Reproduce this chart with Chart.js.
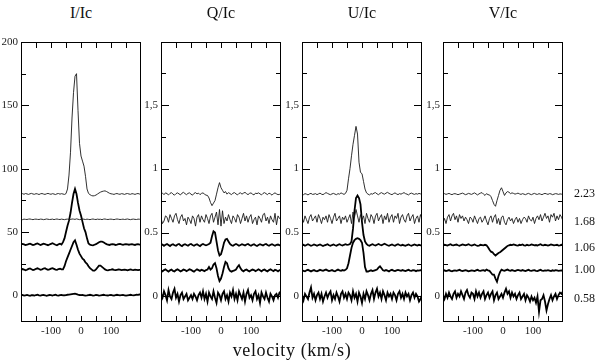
<!DOCTYPE html>
<html>
<head>
<meta charset="utf-8">
<script src="https://cdn.jsdelivr.net/npm/chart.js@4.4.1/dist/chart.umd.min.js"></script>
<style>
  html, body { margin: 0; padding: 0; background: #fff; }
  #wrap { position: relative; width: 600px; height: 362px; overflow: hidden; font-family: "Liberation Serif", "DejaVu Serif", serif; color: #111; }
  .panel { position: absolute; top: 30px; }
  .title { position: absolute; top: 4px; width: 80px; text-align: center; font-size: 16px; line-height: 18px; }
  .rlabel { position: absolute; left: 574px; font-size: 12px; line-height: 12px; }
  #xlabel { position: absolute; left: 172px; width: 240px; top: 340px; text-align: center; font-size: 18px; line-height: 20px; letter-spacing: 0.6px; }
</style>
</head>
<body>
<div id="wrap"></div>
<script>
// velocity grid (km/s) and profile values, stacked with an offset per phase
const velocity = [
  -200,-195,-190,-185,-180,-175,-170,-165,-160,-155,
  -150,-145,-140,-135,-130,-125,-120,-115,-110,-105,
  -100,-95,-90,-85,-80,-75,-70,-65,-60,-55,
  -50,-45,-40,-35,-30,-25,-20,-15,-10,-5,
  0,5,10,15,20,25,30,35,40,45,
  50,55,60,65,70,75,80,85,90,95,
  100,105,110,115,120,125,130,135,140,145,
  150,155,160,165,170,175,180,185,190,195,
  200
];

const phaseLabels = ["2.23", "1.68", "1.06", "1.00", "0.58"];
const iOffsets = [80, 60, 40, 20, 0];
const polOffsets = [0.8, 0.6, 0.4, 0.2, 0];

// I/Ic
const I_223 = [
  0,0.3,-0.2,0.4,0.1,-0.3,0.2,0.5,0,-0.2,
  0.3,0.1,-0.4,0.2,0.4,0,-0.3,0.2,0.5,0.1,
  -0.2,0.3,0,-0.4,0.2,0.4,-0.1,0.3,0,-0.3,
  0.3,4,15,33,60,80,93,95,66,40,
  30,26,22,14,4,0.5,-0.5,-1.2,-1.5,-1.3,
  -0.8,0,0.8,1.5,2,2.3,2.5,2,1.3,0.6,
  0.2,0,-0.3,0.2,0.4,0,-0.2,0.3,0.1,-0.3,
  0.2,0.4,0,-0.2,0.3,0.1,-0.3,0.2,0.4,0,
  0.1
];
const I_168 = [
  0.1,-0.2,0.2,0,-0.1,0.2,0.3,0,-0.2,0.1,
  0.2,0,-0.1,0.2,0.1,-0.2,0,0.3,0.1,-0.1,
  0,0.2,-0.2,0.1,0.3,0,-0.1,0.2,0,-0.2,
  0.1,0.2,0,-0.1,0.3,0.2,0,0.4,0.1,-0.2,
  0,0.3,0.1,-0.1,0.2,0,-0.2,0.1,0.3,0,
  -0.1,0.2,0,0.1,-0.2,0.2,0.3,0,-0.1,0.1,
  0.2,0,-0.2,0.1,0.3,0.1,-0.1,0,0.2,-0.1,
  0.1,0.3,0,-0.2,0.1,0.2,0,-0.1,0.2,0.1,
  0
];
const I_106 = [
  0.2,0.6,0.3,-0.3,0,0.5,0.8,0.3,-0.2,0.1,
  0.6,1.0,0.4,-0.2,0.3,0.8,0.5,0,-0.4,0.2,
  0.7,1.2,0.6,0,-0.5,0.3,0.8,0.2,2,5,
  10,15,19,25,33,40,44,40,33,27,
  23,18,13,10,5,1,0,-0.3,-0.5,0,
  0.5,1.2,2,2.5,2.5,2,1.2,0.5,0,-0.2,
  0.2,0.5,0.2,-0.2,0,0.4,0.6,0.2,-0.1,0.2,
  0.5,0.3,0,0.2,0.4,0.1,-0.2,0.2,0.4,0.1,
  0.2
];
const I_100 = [
  0.3,0.8,0.4,-0.2,0.2,0.9,1.3,0.6,0,0.4,
  1.0,1.4,0.8,0.2,0.6,1.2,1.5,0.7,0.2,0.5,
  1.1,1.5,0.9,0.3,0.2,0.8,1.0,0.5,0.5,3,
  7,10,13,16,19,22,23.4,20,16,13,
  11,9,8,6,5,3,1.5,0.5,-0.5,-0.5,
  0.5,2,3.5,3.5,2.5,1.5,0.5,0,-0.2,0.1,
  0.3,0.6,0.2,-0.1,0.2,0.5,0.3,0,0.2,0.4,
  0.1,-0.2,0.2,0.5,0.2,0,0.3,0.1,-0.1,0.2,
  0.1
];
const I_058 = [
  0,0.3,-0.2,0.1,0.4,0,-0.3,0.2,0.1,-0.1,
  0.3,0.5,0,-0.2,0.2,0.4,0.1,-0.3,0,0.3,
  0.2,-0.1,0.3,0.5,0.1,-0.2,0.2,0.4,0,0.1,
  0.3,0.5,0.6,0.8,1.0,1.2,1.4,1.0,0.6,0.3,
  0.2,0.4,0.1,-0.2,0,0.3,0.5,0.2,-0.1,0.1,
  0.4,0.2,-0.2,0,0.3,0.5,0.2,0,-0.1,0.3,
  0.4,0.1,-0.2,0.2,0.5,0.3,0,0.2,0.4,0.1,
  -0.2,0.1,0.3,0.5,0.2,0,0.3,0.6,0.4,0.7,
  0.8
];

// Q/Ic
const Q_223 = [
  0,0.008,-0.004,0.01,0.004,-0.006,0.006,0.012,0,-0.008,
  0.004,0.01,0.002,-0.006,0.008,0.014,0.004,-0.004,0.006,0.01,
  0,-0.008,0.006,0.012,0.002,0.008,-0.004,0.006,0.01,0,
  -0.008,-0.01,-0.03,-0.065,-0.09,-0.07,-0.05,0,0.05,0.09,
  0.05,0.03,0.01,0.02,0,0.012,0.004,-0.004,0.008,0.012,
  0.002,-0.006,0.006,0.01,0,0.008,0.014,0.004,-0.004,0.006,
  0.01,0,-0.006,0.008,0.004,0.01,0.002,-0.006,0.006,0.012,
  0.004,-0.004,0.008,0.002,-0.008,0.004,0.01,0.002,-0.004,-0.002,
  -0.006
];
const Q_168 = [
  0.01,-0.03,-0.01,0.03,0.02,-0.02,0.04,0.01,-0.02,0.03,
  0.05,0,-0.03,0.02,0.04,-0.01,0.01,-0.04,0.02,0,
  -0.03,0.03,0.01,-0.05,0.02,0.04,-0.02,0.03,0,-0.02,
  0.04,0.01,-0.03,0.03,0.05,-0.02,0.02,0.06,-0.04,0.08,
  -0.05,0.07,-0.03,0.02,-0.01,0.04,0,-0.03,0.03,0.01,
  -0.02,0.04,0.02,-0.03,0.01,0.05,-0.01,0.03,-0.02,0.02,
  0.04,-0.03,0,0.02,-0.04,0.03,0.01,-0.02,0.04,0.05,
  -0.01,0.02,-0.03,0.03,0,-0.02,0.05,-0.04,0.03,0.01,
  0
];
const Q_106 = [
  0,0.006,-0.004,0.004,0.01,0.002,-0.006,0.004,0.008,0,
  -0.004,0.006,0.01,0,-0.006,0.004,0.008,0.002,-0.004,0.006,
  0.01,0.002,-0.004,0.004,0.008,0,-0.006,0.004,0.01,0.004,
  0,0.004,0.01,0.02,0.07,0.11,0.1,0.03,-0.04,-0.08,
  -0.07,-0.03,0.02,0.045,0.05,0.03,0.01,0,-0.004,0.004,
  0.01,0.004,-0.004,0.002,0.008,0.004,-0.002,0.006,0.01,0.002,
  -0.004,0.004,0.008,0,-0.006,0.002,0.008,0.004,-0.002,0.006,
  0.01,0.002,-0.004,0.004,0.008,0.002,-0.004,0.004,0.006,0,
  0.004
];
const Q_100 = [
  0.004,-0.004,0.006,0.012,0.002,-0.006,0.004,0.01,0,-0.004,
  0.006,0.012,0.004,-0.004,0.002,0.01,0.006,-0.002,0.004,0.012,
  0.008,0,-0.006,0.004,0.012,0.006,0,0.008,0.004,-0.002,
  0.006,0.01,0.03,0.01,0.02,0.05,0.06,0.02,-0.04,-0.08,
  -0.06,-0.02,0.03,0.07,0.06,0.02,0,-0.006,0,0.004,
  0.01,0.03,0.045,0.02,0.004,-0.004,0.006,0.01,0.002,-0.004,
  0.004,0.01,0.006,-0.002,0.004,0.012,0.004,-0.004,0.006,0.01,
  0.002,-0.004,0.006,0.012,0.004,-0.002,0.008,0.004,-0.004,0.006,
  0.004
];
const Q_058 = [
  0.02,-0.01,0.04,0.01,-0.03,0.05,0,-0.02,0.03,0.06,
  -0.01,0.02,-0.04,0.01,0.03,-0.02,0,0.02,-0.03,-0.01,
  0.01,-0.02,0.02,0,-0.03,0.01,0.03,-0.01,0.04,-0.02,
  0.02,-0.04,0.03,0,-0.02,0.04,-0.01,-0.05,0.03,0.01,
  -0.03,0.02,0.04,-0.02,0.01,-0.04,0.03,0,0.05,-0.02,
  0.02,-0.03,0.04,0.01,-0.02,0.03,-0.04,0.02,0.05,-0.01,
  0.01,-0.03,0.02,0.04,-0.02,0.01,-0.05,0.03,0,-0.02,
  0.03,-0.01,-0.04,0.02,0,-0.03,0.01,0.02,-0.01,0.03,
  0.04
];

// U/Ic
const U_223 = [
  0,-0.004,0.004,0,-0.006,0.002,0.006,-0.002,0,0.004,
  -0.004,0.002,0.008,0,-0.004,0.004,0.012,0.006,0,-0.004,
  0.002,0.006,0,-0.004,0.004,0,0.01,0.004,-0.002,0.006,
  0.03,0.12,0.2,0.3,0.39,0.46,0.53,0.47,0.25,0.17,
  0.16,0.1,0.04,0.01,0,-0.006,0.004,0,0.008,0.012,
  0.002,-0.004,0.006,0.012,0.004,0,0.008,0.014,0.006,0,
  -0.004,0.004,0.01,0.002,-0.004,0.004,0,0.006,0.012,0.004,
  0,-0.006,0.004,0.008,0.002,-0.002,0.004,0,0.006,0.002,
  0.004
];
const U_168 = [
  0.02,-0.02,0.03,0,-0.03,0.02,0.04,-0.01,0.01,0.03,
  -0.02,0.04,0.01,-0.03,0.02,0,0.03,-0.02,0.04,0.01,
  -0.03,0.02,0.05,-0.01,0.01,0.03,-0.03,0.02,0,0.03,
  -0.02,0.01,0.04,-0.03,0.06,0.02,0.08,0.03,-0.02,0.04,
  0,0.03,-0.03,0.05,0.01,-0.02,0.04,0.02,-0.03,0.03,
  0.05,-0.01,0.02,0.04,-0.03,0.03,0,0.05,-0.02,0.02,
  0.04,-0.02,0.03,0.01,0.05,-0.03,0.02,0.04,0,-0.02,
  0.03,0.05,-0.01,0.02,0.04,-0.03,0.01,0.03,-0.02,0.04,
  0.01
];
const U_106 = [
  0,0.004,-0.004,0.002,0.008,0.002,-0.004,0,0.006,0.002,
  -0.004,0.002,0.006,0,-0.006,0,0.004,0.008,0,-0.004,
  0.002,0.006,0,-0.004,0.004,0.008,0.002,-0.002,0.004,0.008,
  0.004,0.006,0.01,0.03,0.13,0.27,0.37,0.39,0.37,0.32,
  0.18,0.08,0.03,0.01,0,-0.004,0.004,0.008,0.002,-0.002,
  0.004,0.01,0.004,0,0.006,0.012,0.006,0,-0.004,0.002,
  0.006,0,-0.004,0.004,0.008,0.002,-0.002,0.004,0,-0.004,
  0.002,0.006,0,-0.004,0.002,0.006,0.002,-0.002,0.004,0,
  0.002
];
const U_100 = [
  0.004,0,-0.004,0.004,0.008,0.002,-0.004,0.002,0.006,0,
  -0.004,0.002,0.008,0.004,0,0.006,0.01,0.004,-0.002,0.002,
  0.006,0,-0.004,0.004,0.01,0.004,0,0.006,0.002,0.008,
  0.02,0.06,0.12,0.18,0.22,0.24,0.25,0.255,0.25,0.24,
  0.22,0.14,0.03,-0.005,-0.005,0,0.004,-0.002,0.002,0.006,
  0.01,0.025,0.035,0.02,0.005,0,0.006,0.002,-0.004,0.004,
  0.008,0.002,-0.002,0.004,0.008,0.004,0,0.006,0.002,-0.002,
  0.004,0.008,0.002,0,0.006,0.004,-0.002,0.004,0.002,0.006,
  0.004
];
const U_058 = [
  0.01,-0.03,0.02,0,-0.02,0.03,0.07,-0.01,0.02,-0.03,
  0.01,0.03,-0.02,0.02,-0.04,0,0.03,-0.01,0.02,0.04,
  -0.03,0.01,-0.02,0.03,0,-0.04,0.02,0.04,-0.01,0.02,
  -0.02,0.03,0.01,-0.03,0.04,-0.01,0.02,-0.04,0.03,0,
  -0.05,0.02,-0.02,0.04,0.01,-0.03,0.02,0.05,-0.02,0.03,
  0.06,0,0.03,-0.02,0.04,0.01,-0.03,0.03,0,0.02,
  -0.02,0.03,0.01,-0.03,0.02,0.04,-0.01,0.02,-0.02,0.03,
  0,0.02,-0.03,0.01,0.03,-0.01,0.02,0,-0.04,-0.02,
  0.01
];

// V/Ic
const V_223 = [
  0,0.004,-0.002,0.002,0.006,0,-0.004,0.002,0.004,0,
  -0.004,0,0.004,0.008,0.002,-0.004,0,0.006,0.002,-0.002,
  0.004,0.01,0.002,-0.006,0.002,0.008,0.012,0,-0.01,0.004,
  -0.004,-0.006,-0.02,-0.05,-0.08,-0.095,-0.05,-0.01,0.03,0.05,
  0.02,-0.01,0.01,0.02,0.015,0.004,0.01,0.006,0,0.004,
  0.008,0.002,-0.002,0.004,0,-0.004,0.002,0.006,0,-0.004,
  0.002,0.006,0,-0.002,0.004,0,-0.004,0.002,0.006,0.002,
  -0.002,0.004,0.002,-0.004,0,0.004,0.002,-0.002,0.002,0,
  0.002
];
const V_168 = [
  -0.02,0.01,-0.03,0.02,0.04,-0.01,0.03,0.05,0,0.03,
  -0.02,0.04,0.01,0.03,-0.01,0.02,0,-0.03,0.02,0.01,
  -0.02,0.03,0,-0.03,0.01,0.02,-0.02,0,0.03,-0.01,
  -0.04,0.01,0.03,-0.02,0.02,0.04,-0.03,0.01,-0.04,0.02,
  0.03,-0.02,-0.04,0,0.02,-0.01,0.01,-0.03,0,0.02,
  -0.02,0.01,-0.03,0,0.02,0.01,-0.02,0.03,0,-0.01,
  0.02,-0.03,0.01,0.03,0,0.04,-0.01,0.02,0.05,0.01,
  0.03,-0.02,0.04,0.02,0.05,-0.01,0.03,0,0.04,0.02,
  -0.01
];
const V_106 = [
  0,0.004,0.002,-0.002,0.004,0.008,0.002,0,0.004,0.006,
  0,-0.004,0.002,0.006,0.004,0,0.004,0.008,0.002,-0.002,
  0.002,0.006,0,-0.004,-0.002,0.004,0.002,0,0.004,0,
  -0.015,-0.035,-0.05,-0.055,-0.07,-0.08,-0.07,-0.06,-0.055,-0.045,
  -0.035,-0.025,-0.015,-0.005,0,0.004,0.002,0.006,0.004,0,
  -0.002,0.004,0.002,0.006,0,-0.002,0.004,0,0.002,0.006,
  0.004,0,0.002,-0.002,0.004,0.008,0.002,0,0.004,0.002,
  -0.002,0.002,0.006,0.004,0,0.002,0.004,-0.002,0,0.004,
  0.002
];
const V_100 = [
  0,0.004,-0.002,0.002,0.006,0,-0.004,0.002,0.004,0,
  0.004,0.008,0.002,-0.002,0.002,0.006,0.002,-0.004,0,0.004,
  0.002,-0.002,0.004,0.008,0.002,0,0.004,0.006,0,0.01,
  0.004,0,-0.015,-0.03,-0.03,-0.06,-0.085,-0.04,-0.01,0.01,
  0.004,0,0.006,0.01,0.004,0,0.006,0.002,-0.002,0.004,
  0.008,0.004,0,0.006,0.002,-0.002,0.004,0.008,0.002,0,
  0.004,0.006,0,-0.002,0.004,0.008,0.002,0,0.004,0.002,
  0.006,0.002,-0.002,0.004,0,0.006,0.004,0,0.002,0.004,
  0.002
];
const V_058 = [
  0.01,-0.02,0.02,-0.01,0.03,0,-0.02,0.02,0.04,-0.01,
  0.02,0,0.04,0.01,-0.02,0.03,0.05,0.01,-0.01,0.03,
  0.02,-0.02,0.04,0,0.03,-0.01,0.02,0.04,-0.02,0.01,
  0.03,-0.01,0.02,0.04,-0.03,0.01,0.03,-0.02,0,0.02,
  -0.01,0.03,0.06,0.02,0.04,-0.01,0.03,0,0.02,-0.02,
  0.01,0.03,-0.02,0,0.02,-0.03,0.01,-0.01,-0.04,0,
  -0.03,-0.01,-0.05,0,-0.12,-0.03,-0.02,0.01,-0.04,-0.11,
  -0.06,-0.02,0.01,-0.03,0,0.02,-0.02,0.01,0.03,0.02,
  0.04
];

// axis ticks
const velTickLabels = [-100, 0, 100];
const velTickMarks = [-150, -100, -50, 0, 50, 100, 150];
const iTickLabels = [0, 50, 100, 150, 200];
const iMinorMarks = [25, 75, 125, 175];
const polTickLabels = [0, 0.5, 1, 1.5];
const polTickText = ["0", "0.5", "1", "1,5"];
const polMinorMarks = [0.25, 0.75, 1.25, 1.75];

const panels = [
  { title: "I/Ic", profiles: [I_223, I_168, I_106, I_100, I_058], offsets: iOffsets, min: -21, max: 200, ticks: iTickLabels, text: iTickLabels.map(String), minor: iMinorMarks, right: false, left: 21 },
  { title: "Q/Ic", profiles: [Q_223, Q_168, Q_106, Q_100, Q_058], offsets: polOffsets, min: -0.2, max: 1.99, ticks: polTickLabels, text: polTickText, minor: polMinorMarks, right: true, left: 161 },
  { title: "U/Ic", profiles: [U_223, U_168, U_106, U_100, U_058], offsets: polOffsets, min: -0.2, max: 1.99, ticks: polTickLabels, text: polTickText, minor: polMinorMarks, right: true, left: 302 },
  { title: "V/Ic", profiles: [V_223, V_168, V_106, V_100, V_058], offsets: polOffsets, min: -0.2, max: 1.99, ticks: polTickLabels, text: polTickText, minor: polMinorMarks, right: true, left: 443 }
];

const AXIS_W = 20, PLOT_W = 120, PLOT_H = 280, PAD_TOP = 12, PAD_R = 4, CANVAS_H = 312;

// closed frame with inward tick marks on every side
const frameTicks = {
  id: "frameTicks",
  afterDatasetsDraw(chart, args, opts) {
    const { ctx, chartArea: a, scales: { x, y } } = chart;
    ctx.save();
    ctx.strokeStyle = "#000";
    ctx.lineWidth = 1;
    ctx.strokeRect(a.left + 0.5, a.top + 0.5, a.right - a.left - 1, a.bottom - a.top - 1);
    ctx.beginPath();
    velTickMarks.forEach((v) => {
      const px = Math.round(x.getPixelForValue(v)) + 0.5;
      ctx.moveTo(px, a.top); ctx.lineTo(px, a.top + 6);
      ctx.moveTo(px, a.bottom); ctx.lineTo(px, a.bottom - 6);
    });
    const side = (vals, len) => vals.forEach((v) => {
      const py = Math.round(y.getPixelForValue(v)) + 0.5;
      ctx.moveTo(a.left, py); ctx.lineTo(a.left + len, py);
      if (opts.right) { ctx.moveTo(a.right, py); ctx.lineTo(a.right - len, py); }
    });
    side(opts.major, 8);
    side(opts.minor, 5);
    ctx.stroke();
    ctx.restore();
  }
};

const wrap = document.getElementById("wrap");
const tickFont = { family: "'Liberation Serif', serif", size: 11 };

panels.forEach((p) => {
  const box = document.createElement("div");
  box.className = "panel";
  box.style.left = (p.left - AXIS_W) + "px";
  const canvas = document.createElement("canvas");
  canvas.width = AXIS_W + PLOT_W + PAD_R;
  canvas.height = CANVAS_H;
  box.appendChild(canvas);
  wrap.appendChild(box);

  const t = document.createElement("div");
  t.className = "title";
  t.textContent = p.title;
  t.style.left = (p.left + PLOT_W / 2 - 40) + "px";
  wrap.appendChild(t);

  const datasets = p.profiles.map((prof, j) => ({
    label: phaseLabels[j],
    data: velocity.map((v, k) => ({ x: v, y: p.offsets[j] + prof[k] })),
    borderColor: j < 2 ? "#1a1a1a" : "#000",
    borderWidth: j < 2 ? 0.9 : 1.8,
    pointRadius: 0,
    tension: 0,
    fill: false
  }));

  new Chart(canvas, {
    type: "line",
    data: { datasets },
    options: {
      responsive: false,
      animation: false,
      events: [],
      layout: { padding: { top: PAD_TOP, right: PAD_R, left: 0, bottom: 0 } },
      plugins: {
        legend: { display: false },
        tooltip: { enabled: false },
        frameTicks: { major: p.ticks, minor: p.minor, right: p.right }
      },
      scales: {
        x: {
          type: "linear", min: -200, max: 200,
          grid: { display: false, drawTicks: false },
          border: { display: false },
          afterBuildTicks: (s) => { s.ticks = velTickLabels.map((v) => ({ value: v })); },
          afterFit: (s) => { s.height = CANVAS_H - PAD_TOP - PLOT_H; },
          ticks: { font: tickFont, color: "#222", padding: 3, maxRotation: 0, autoSkip: false, callback: (v) => String(v) }
        },
        y: {
          type: "linear", min: p.min, max: p.max,
          grid: { display: false, drawTicks: false },
          border: { display: false },
          afterBuildTicks: (s) => { s.ticks = p.ticks.map((v) => ({ value: v })); },
          afterFit: (s) => { s.width = AXIS_W; },
          ticks: { font: tickFont, color: "#222", padding: 3, autoSkip: false, callback: (v) => p.text[p.ticks.indexOf(v)] }
        }
      }
    },
    plugins: [frameTicks]
  });
});

// phase labels at the right of the last panel
const labelY = [193, 221, 247, 269, 298];
phaseLabels.forEach((s, j) => {
  const d = document.createElement("div");
  d.className = "rlabel";
  d.style.top = (labelY[j] - 6) + "px";
  d.textContent = s;
  wrap.appendChild(d);
});

const xl = document.createElement("div");
xl.id = "xlabel";
xl.textContent = "velocity (km/s)";
wrap.appendChild(xl);
</script>
</body>
</html>
